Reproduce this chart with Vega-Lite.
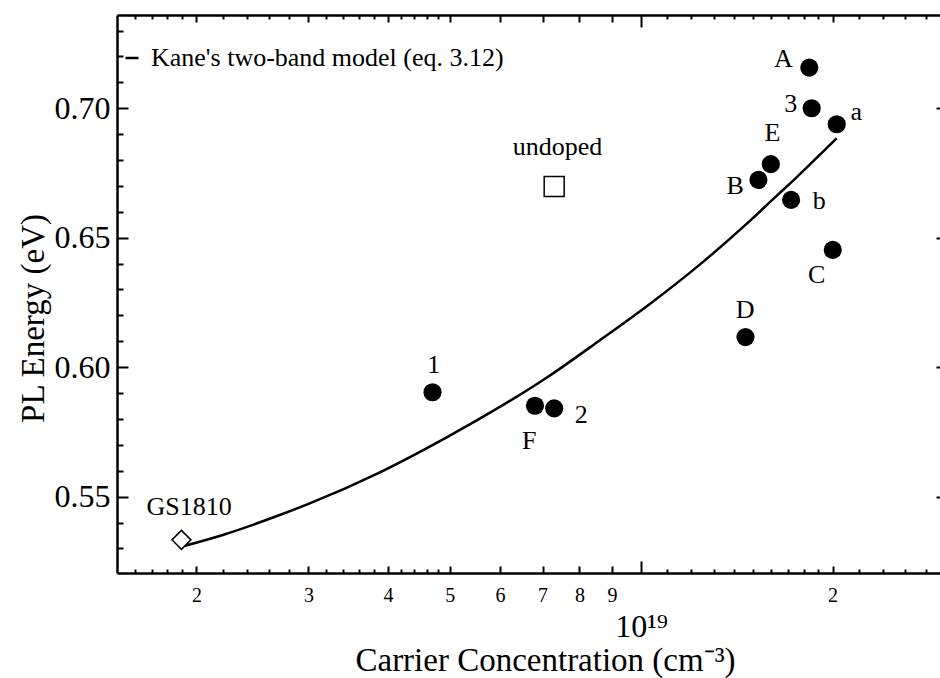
{
  "$schema": "https://vega.github.io/schema/vega-lite/v6.json",
  "width": 823,
  "height": 558,
  "autosize": {"type": "none"},
  "padding": {"left": 117, "top": 15, "right": 0, "bottom": 105},
  "background": "white",
  "config": {
    "view": {"stroke": null},
    "font": "Liberation Serif",
    "axis": {
      "domainColor": "black",
      "domainWidth": 2.5,
      "tickColor": "black",
      "tickWidth": 2,
      "labelColor": "black",
      "titleColor": "black",
      "labelFont": "Liberation Serif",
      "titleFont": "Liberation Serif",
      "titleFontWeight": "normal",
      "grid": false,
      "labelOverlap": false,
      "labelFlush": false,
      "labelBound": false
    }
  },
  "datasets": {
    "curve": [
      {"n": 1.89e18, "E": 0.5306, "series": "Kane's two-band model (eq. 3.12)"},
      {"n": 2.2e18, "E": 0.5352, "series": "Kane's two-band model (eq. 3.12)"},
      {"n": 2.69e18, "E": 0.5427, "series": "Kane's two-band model (eq. 3.12)"},
      {"n": 3.0e18, "E": 0.5472, "series": "Kane's two-band model (eq. 3.12)"},
      {"n": 3.87e18, "E": 0.5592, "series": "Kane's two-band model (eq. 3.12)"},
      {"n": 4.98e18, "E": 0.5733, "series": "Kane's two-band model (eq. 3.12)"},
      {"n": 5.55e18, "E": 0.5798, "series": "Kane's two-band model (eq. 3.12)"},
      {"n": 7.15e18, "E": 0.5964, "series": "Kane's two-band model (eq. 3.12)"},
      {"n": 8.57e18, "E": 0.6100, "series": "Kane's two-band model (eq. 3.12)"},
      {"n": 1.027e19, "E": 0.6240, "series": "Kane's two-band model (eq. 3.12)"},
      {"n": 1.231e19, "E": 0.6392, "series": "Kane's two-band model (eq. 3.12)"},
      {"n": 1.475e19, "E": 0.6560, "series": "Kane's two-band model (eq. 3.12)"},
      {"n": 1.644e19, "E": 0.6668, "series": "Kane's two-band model (eq. 3.12)"},
      {"n": 1.747e19, "E": 0.6728, "series": "Kane's two-band model (eq. 3.12)"},
      {"n": 1.946e19, "E": 0.6840, "series": "Kane's two-band model (eq. 3.12)"},
      {"n": 2.03e19, "E": 0.6884, "series": "Kane's two-band model (eq. 3.12)"}
    ],
    "samples": [
      {"name": "A", "kind": "doped", "n": 1.838e19, "E": 0.7157},
      {"name": "3", "kind": "doped", "n": 1.854e19, "E": 0.7000},
      {"name": "a", "kind": "doped", "n": 2.030e19, "E": 0.6938},
      {"name": "E", "kind": "doped", "n": 1.599e19, "E": 0.6784},
      {"name": "B", "kind": "doped", "n": 1.529e19, "E": 0.6723},
      {"name": "b", "kind": "doped", "n": 1.721e19, "E": 0.6646},
      {"name": "C", "kind": "doped", "n": 2.001e19, "E": 0.6453},
      {"name": "D", "kind": "doped", "n": 1.459e19, "E": 0.6116},
      {"name": "1", "kind": "doped", "n": 4.70e18, "E": 0.5903},
      {"name": "F", "kind": "doped", "n": 6.81e18, "E": 0.5851},
      {"name": "2", "kind": "doped", "n": 7.30e18, "E": 0.5841},
      {"name": "undoped", "kind": "undoped", "n": 7.30e18, "E": 0.6698},
      {"name": "GS1810", "kind": "reference", "n": 1.894e18, "E": 0.5333}
    ],
    "labels": [
      {"label": "A", "n": 1.674e19, "E": 0.7189},
      {"label": "3", "n": 1.718e19, "E": 0.7015},
      {"label": "a", "n": 2.178e19, "E": 0.6985},
      {"label": "E", "n": 1.609e19, "E": 0.6906},
      {"label": "B", "n": 1.405e19, "E": 0.6698},
      {"label": "b", "n": 1.905e19, "E": 0.6642},
      {"label": "C", "n": 1.888e19, "E": 0.6357},
      {"label": "D", "n": 1.457e19, "E": 0.6219},
      {"label": "undoped", "n": 7.39e18, "E": 0.6852},
      {"label": "1", "n": 4.72e18, "E": 0.6010},
      {"label": "F", "n": 6.67e18, "E": 0.5714},
      {"label": "2", "n": 8.05e18, "E": 0.5817},
      {"label": "GS1810", "n": 1.948e18, "E": 0.5461}
    ]
  },
  "layer": [
    {
      "data": {"name": "curve"},
      "mark": {"type": "line", "strokeWidth": 2.5, "interpolate": "monotone"},
      "encoding": {
        "x": {
          "field": "n", "type": "quantitative",
          "scale": {"type": "log", "domain": [1.5e18, 2.95e19], "nice": false},
          "axis": {
            "orient": "bottom",
            "values": [1.6e18, 1.7e18, 1.8e18, 1.9e18, 2e18, 2.2e18, 2.4e18, 2.6e18, 2.8e18, 3e18, 3.2e18, 3.4e18, 3.6e18, 3.8e18, 4e18, 4.2e18, 4.4e18, 4.6e18, 4.8e18, 5e18, 6e18, 7e18, 8e18, 9e18, 1e19, 1.1e19, 1.2e19, 1.3e19, 1.4e19, 1.5e19, 1.6e19, 1.7e19, 1.8e19, 1.9e19, 2e19, 2.2e19, 2.4e19, 2.6e19, 2.8e19],
            "tickSize": {"expr": "datum.value === 1e19 ? -12 : (indexof([2e18,3e18,4e18,5e18,6e18,7e18,8e18,9e18,2e19], datum.value) >= 0 ? -7 : -4)"},
            "labelExpr": "datum.value === 1e19 ? '10¹⁹' : (indexof([2e18,3e18,4e18,5e18,6e18,7e18,8e18,9e18], datum.value) >= 0 ? format(datum.value / 1e18, '.0f') : (datum.value === 2e19 ? '2' : ''))",
            "labelFontSize": {"expr": "datum.value === 1e19 ? 32 : 20"},
            "labelPadding": {"expr": "datum.value === 1e19 ? 50 : 19"},
            "labelAlign": "center",
            "labelBaseline": "top",
            "title": "Carrier Concentration (cm⁻³)",
            "titleFontSize": 33,
            "titleX": 428,
            "titleY": 97,
            "titleAlign": "center",
            "titleBaseline": "alphabetic"
          }
        },
        "y": {
          "field": "E", "type": "quantitative",
          "scale": {"domain": [0.5205, 0.736], "nice": false, "zero": false},
          "axis": {
            "orient": "left",
            "values": [0.53, 0.54, 0.55, 0.56, 0.57, 0.58, 0.59, 0.60, 0.61, 0.62, 0.63, 0.64, 0.65, 0.66, 0.67, 0.68, 0.69, 0.70, 0.71, 0.72, 0.73],
            "tickSize": {"expr": "abs(datum.value * 20 - round(datum.value * 20)) < 1e-6 ? -11 : -6"},
            "labelExpr": "abs(datum.value * 20 - round(datum.value * 20)) < 1e-6 ? format(datum.value, '.2f') : ''",
            "labelFontSize": 32,
            "labelPadding": 18,
            "title": "PL Energy (eV)",
            "titleFontSize": 33,
            "titleAngle": 270,
            "titleX": -74,
            "titleY": 303,
            "titleAlign": "center",
            "titleBaseline": "alphabetic"
          }
        },
        "color": {
          "field": "series", "type": "nominal",
          "scale": {"range": ["black"]},
          "legend": {
            "orient": "none",
            "legendX": 2,
            "legendY": 30,
            "title": null,
            "symbolType": "stroke",
            "symbolSize": 169,
            "symbolStrokeWidth": 2.5,
            "symbolStrokeColor": "black",
            "labelFont": "Liberation Serif",
            "labelFontSize": 26,
            "labelColor": "black",
            "labelOffset": 6,
            "labelLimit": 0,
            "padding": 0
          }
        }
      }
    },
    {
      "data": {"name": "samples"},
      "transform": [{"filter": "datum.kind === 'doped'"}],
      "mark": {"type": "point", "shape": "circle", "filled": true, "size": 330, "color": "black", "opacity": 1},
      "encoding": {
        "x": {
          "field": "n", "type": "quantitative",
          "scale": {"type": "log", "domain": [1.5e18, 2.95e19], "nice": false},
          "axis": {
            "orient": "top",
            "values": [1.6e18, 1.7e18, 1.8e18, 1.9e18, 2e18, 2.2e18, 2.4e18, 2.6e18, 2.8e18, 3e18, 3.2e18, 3.4e18, 3.6e18, 3.8e18, 4e18, 4.2e18, 4.4e18, 4.6e18, 4.8e18, 5e18, 6e18, 7e18, 8e18, 9e18, 1e19, 1.1e19, 1.2e19, 1.3e19, 1.4e19, 1.5e19, 1.6e19, 1.7e19, 1.8e19, 1.9e19, 2e19, 2.2e19, 2.4e19, 2.6e19, 2.8e19],
            "tickSize": {"expr": "datum.value === 1e19 ? -12 : (indexof([2e18,3e18,4e18,5e18,6e18,7e18,8e18,9e18,2e19], datum.value) >= 0 ? -7 : -4)"},
            "labels": false,
            "title": null
          }
        },
        "y": {
          "field": "E", "type": "quantitative",
          "scale": {"domain": [0.5205, 0.736], "nice": false, "zero": false},
          "axis": {
            "orient": "right",
            "values": [0.55, 0.60, 0.65, 0.70],
            "tickSize": -4,
            "domain": false,
            "labels": false,
            "title": null
          }
        }
      }
    },
    {
      "data": {"name": "samples"},
      "transform": [{"filter": "datum.kind === 'undoped'"}],
      "mark": {"type": "point", "shape": "square", "filled": false, "size": 400, "stroke": "black", "strokeWidth": 1.5, "opacity": 1},
      "encoding": {
        "x": {"field": "n", "type": "quantitative", "scale": {"type": "log", "domain": [1.5e18, 2.95e19], "nice": false}, "axis": null},
        "y": {"field": "E", "type": "quantitative", "scale": {"domain": [0.5205, 0.736], "nice": false, "zero": false}, "axis": null}
      }
    },
    {
      "data": {"name": "samples"},
      "transform": [{"filter": "datum.kind === 'reference'"}],
      "mark": {"type": "point", "shape": "diamond", "filled": true, "fill": "white", "size": 361, "stroke": "black", "strokeWidth": 1.5, "opacity": 1},
      "encoding": {
        "x": {"field": "n", "type": "quantitative", "scale": {"type": "log", "domain": [1.5e18, 2.95e19], "nice": false}, "axis": null},
        "y": {"field": "E", "type": "quantitative", "scale": {"domain": [0.5205, 0.736], "nice": false, "zero": false}, "axis": null}
      }
    },
    {
      "data": {"name": "labels"},
      "mark": {"type": "text", "font": "Liberation Serif", "fontSize": 26, "align": "center", "baseline": "middle", "color": "black"},
      "encoding": {
        "x": {"field": "n", "type": "quantitative", "scale": {"type": "log", "domain": [1.5e18, 2.95e19], "nice": false}, "axis": null},
        "y": {"field": "E", "type": "quantitative", "scale": {"domain": [0.5205, 0.736], "nice": false, "zero": false}, "axis": null},
        "text": {"field": "label"}
      }
    }
  ],
  "resolve": {"axis": {"x": "independent", "y": "independent"}}
}
